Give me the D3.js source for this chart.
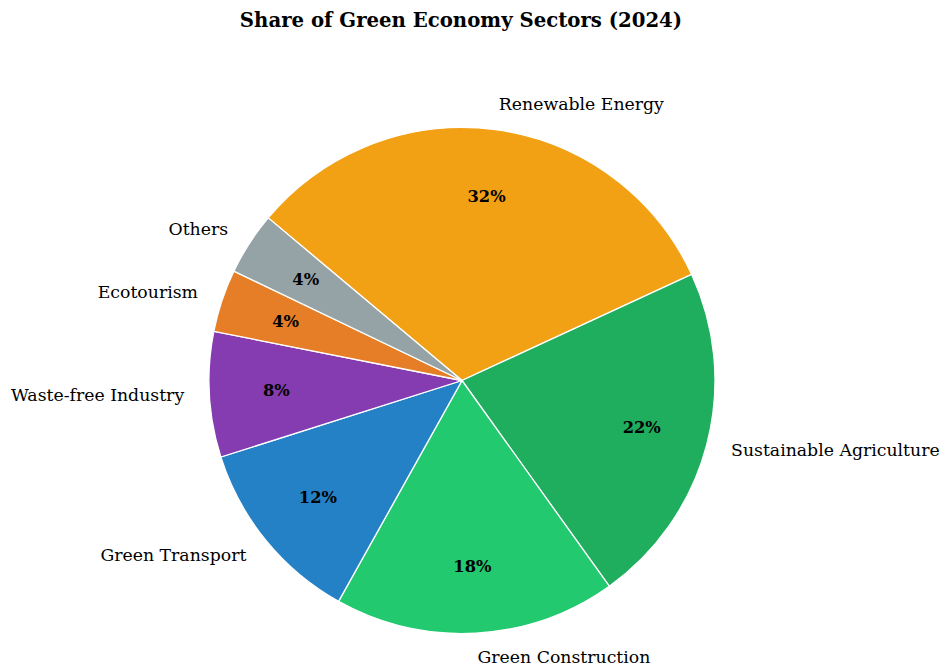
<!DOCTYPE html>
<html>
<head>
<meta charset="utf-8">
<script src="https://cdn.jsdelivr.net/npm/d3@7"></script>
<style>
  body { margin: 0; background: #fff; }
  text { font-family: "DejaVu Serif", serif; }
</style>
</head>
<body>
<div id="chart"></div>
<script>
var sectors = ["Renewable Energy", "Sustainable Agriculture", "Green Construction", "Green Transport", "Waste-free Industry", "Ecotourism", "Others"];
var shares = [32, 22, 18, 12, 8, 4, 4];
var colors = ["#f2a115", "#1fad5e", "#22c96f", "#2481c5", "#843cb0", "#e57e26", "#95a3a6"];

var width = 941, height = 668;
var cx = 462, cy = 380.5, radius = 253;

var svg = d3.select("#chart").append("svg").attr("width", width).attr("height", height);

svg.append("text")
    .attr("x", 461).attr("y", 27)
    .attr("text-anchor", "middle")
    .attr("font-size", 19.7).attr("font-weight", "bold")
    .text("Share of Green Economy Sectors (2024)");

// start at 140 deg (math), going clockwise like matplotlib counterclock=False
var startRad = (90 - 140) * Math.PI / 180;
var pie = d3.pie().sort(null).value(function(d) { return d; })
    .startAngle(startRad).endAngle(startRad + 2 * Math.PI);

var arcs = pie(shares);
var arc = d3.arc().innerRadius(0).outerRadius(radius);

var g = svg.append("g").attr("transform", "translate(" + cx + "," + cy + ")");

g.selectAll("path").data(arcs).enter().append("path")
    .attr("d", arc)
    .attr("fill", function(d, i) { return colors[i]; })
    .attr("stroke", "#fff").attr("stroke-width", 1.3);

function mid(d) { return (d.startAngle + d.endAngle) / 2; }

g.selectAll("text.pct").data(arcs).enter().append("text")
    .attr("class", "pct")
    .attr("x", function(d) { return Math.sin(mid(d)) * radius * 0.735; })
    .attr("y", function(d) { return -Math.cos(mid(d)) * radius * 0.735; })
    .attr("text-anchor", "middle").attr("dy", "0.33em")
    .attr("font-size", 16.3).attr("font-weight", "bold")
    .text(function(d) { return d.data + "%"; });

g.selectAll("text.lbl").data(arcs).enter().append("text")
    .attr("class", "lbl")
    .attr("x", function(d) { return Math.sin(mid(d)) * radius * 1.1; })
    .attr("y", function(d) { return -Math.cos(mid(d)) * radius * 1.1; })
    .attr("text-anchor", function(d) { return Math.sin(mid(d)) > 0 ? "start" : "end"; })
    .attr("dy", "0.28em")
    .attr("font-size", 17.3)
    .text(function(d, i) { return sectors[i]; });
</script>
</body>
</html>
